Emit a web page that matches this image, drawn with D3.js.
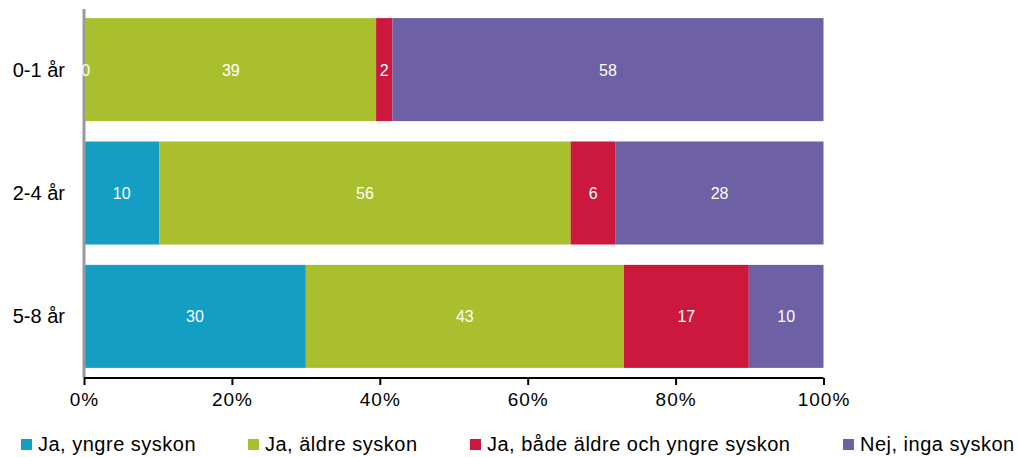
<!DOCTYPE html>
<html><head><meta charset="utf-8">
<script src="https://cdn.jsdelivr.net/npm/d3@7"></script>
<style>
body{margin:0;background:#fff;}
svg{display:block;font-family:"Liberation Sans",Arial,sans-serif;}
</style></head>
<body><svg id="c" width="1018" height="457"></svg>
<script>
const categories = ["0-1 år", "2-4 år", "5-8 år"];
const seriesNames = ["Ja, yngre syskon", "Ja, äldre syskon", "Ja, både äldre och yngre syskon", "Nej, inga syskon"];
const yngre = [0.2, 10.2, 30.0];
const aldre = [39.3, 55.6, 43.0];
const bada = [2.2, 6.1, 16.9];
const inga = [58.3, 28.1, 10.1];
const labelsYngre = [0, 10, 30];
const labelsAldre = [39, 56, 43];
const labelsBada = [2, 6, 17];
const labelsInga = [58, 28, 10];
const tickValues = [0, 20, 40, 60, 80, 100];
const colors = ["#149ec3", "#aabf2e", "#cc183c", "#6d60a5"];

const series = [yngre, aldre, bada, inga];
const labels = [labelsYngre, labelsAldre, labelsBada, labelsInga];
const rows = categories.map((c, i) => {
  const o = {cat: c};
  seriesNames.forEach((s, k) => o[s] = series[k][i]);
  return o;
});
const stacked = d3.stack().keys(seriesNames)(rows);

const svg = d3.select("#c");
const x = d3.scaleLinear().domain([0, 100]).range([84, 823.5]);
const y = d3.scaleBand().domain(categories).range([7, 379]).paddingInner(0.165).paddingOuter(0.09);

// bars
const barG = svg.append("g");
stacked.forEach((layer, k) => {
  barG.append("g").selectAll("rect").data(layer).join("rect")
    .attr("x", d => x(d[0]))
    .attr("y", d => y(d.data.cat))
    .attr("width", d => x(d[1]) - x(d[0]))
    .attr("height", y.bandwidth())
    .attr("fill", colors[k]);
});

// left axis line
svg.append("line").attr("x1", 84).attr("x2", 84).attr("y1", 9).attr("y2", 378)
  .attr("stroke", "#999").attr("stroke-width", 3);

// data labels
stacked.forEach((layer, k) => {
  svg.append("g").selectAll("text").data(layer).join("text")
    .attr("x", d => (x(d[0]) + x(d[1])) / 2 + (k === 0 && d[1] - d[0] < 1 ? 1 : 0))
    .attr("y", d => y(d.data.cat) + y.bandwidth() / 2 + 6)
    .attr("text-anchor", "middle")
    .attr("fill", "#fff")
    .attr("font-size", 16)
    .text((d, i) => labels[k][i]);
});

// category labels
svg.append("g").selectAll("text").data(categories).join("text")
  .attr("x", 65)
  .attr("y", d => y(d) + y.bandwidth() / 2 + 7)
  .attr("text-anchor", "end")
  .attr("font-size", 20)
  .attr("fill", "#000")
  .text(d => d);

// x axis
const xAxis = d3.axisBottom(x).tickValues(tickValues).tickSize(7).tickPadding(8)
  .tickFormat(d => d + "%");
const ax = svg.append("g").attr("transform", "translate(0,378)").call(xAxis);
ax.select(".domain").attr("stroke", "#000").attr("stroke-width", 2).attr("d", "M84,0H823.5");
ax.selectAll(".tick line").attr("stroke", "#000").attr("stroke-width", 2);
ax.selectAll(".tick text").attr("font-size", 19).attr("fill", "#000")
  .attr("font-family", "'Liberation Sans',Arial,sans-serif")
  .style("letter-spacing", "1px");

// legend
const legendX = [21, 248, 470, 843];
const lg = svg.append("g").selectAll("g").data(seriesNames).join("g")
  .attr("transform", (d, i) => `translate(${legendX[i]},439)`);
lg.append("rect").attr("width", 11).attr("height", 11).attr("fill", (d, i) => colors[i]);
lg.append("text").attr("x", 17).attr("y", 11.5).attr("font-size", 20).attr("fill", "#000")
  .style("letter-spacing", "0.5px").text(d => d);
</script></body></html>
